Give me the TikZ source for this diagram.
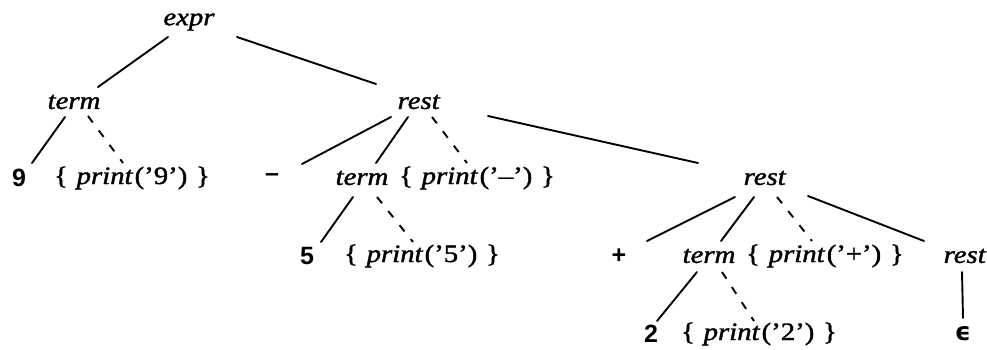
\documentclass[tikz,border=0pt]{standalone}
\usepackage{fontspec}
\setmainfont{Liberation Serif}[FakeStretch=1.15,UprightFeatures={FakeBold=1.5},ItalicFeatures={FakeBold=1.5}]
\newfontfamily\digfont{Liberation Sans}
\newfontfamily\epsfont{DejaVu Sans}
\usetikzlibrary{calc}
\tikzset{
  lbl/.style={inner sep=0pt, font=\fontsize{25}{28}\selectfont},
  edge/.style={line width=1.9pt, line cap=round},
  act/.style={edge, dash pattern=on 8pt off 10pt, line cap=butt}
}
\newcommand{\prt}[1]{\{\hspace{0.35em}\textit{print}\hspace{0.06em}(’#1’)\hspace{0.35em}\}}
\begin{document}
\begin{tikzpicture}[x=1pt,y=-1pt]
\useasboundingbox (0,0) rectangle (987,350);
% row 0
\node[lbl] (expr) at (189,22) {\textit{expr}};
% row 1
\node[lbl] (term1) at (74,102) {\textit{term}};
\node[lbl] (rest1) at (419,102) {\textit{rest}};
% row 2
\node[lbl] (n9) at (19,178) {\digfont\bfseries 9};
\node[lbl] (p9) at (132,178) {\prt{9}};
\node[lbl] (minus) at (272,178) {\digfont\bfseries –};
\node[lbl] (term2) at (362,178) {\textit{term}};
\node[lbl] (pm) at (477,178) {\prt{–}};
\node[lbl] (rest2) at (765,178) {\textit{rest}};
% row 3
\node[lbl] (n5) at (307,256) {\digfont\bfseries 5};
\node[lbl] (p5) at (422,256) {\prt{5}};
\node[lbl] (plus) at (619,256) {\digfont\bfseries +};
\node[lbl] (term3) at (709,256) {\textit{term}};
\node[lbl] (pp) at (825,256) {\prt{+}};
\node[lbl] (rest3) at (965,256) {\textit{rest}};
% row 4
\node[lbl] (n2) at (651,334) {\digfont\bfseries 2};
\node[lbl] (p2) at (759,334) {\prt{2}};
\node[lbl] (eps) at (963,334) {\epsfont\bfseries ϵ};
% edges
\draw[edge] ($(expr)+(-21,15)$) -- ($(term1)+(24,-15)$);
\draw[edge] ($(expr)+(48,15)$) -- ($(rest1)+(-43,-18)$);
\draw[edge] ($(term1)+(-9,15)$) -- ($(n9)+(13,-15)$);
\draw[act]  ($(term1)+(14,14)$) -- ($(p9)+(-9,-15)$);
\draw[edge] ($(rest1)+(-28,15)$) -- ($(minus)+(30,-14)$);
\draw[edge] ($(rest1)+(-11,15)$) -- ($(term2)+(14,-15)$);
\draw[act]  ($(rest1)+(13,15)$) -- ($(pm)+(-10,-15)$);
\draw[edge] ($(rest1)+(69,14)$) -- ($(rest2)+(-67,-15)$);
\draw[edge] ($(term2)+(-9,19)$) -- ($(n5)+(14,-14)$);
\draw[act]  ($(term2)+(15,19)$) -- ($(p5)+(-9,-14)$);
\draw[edge] ($(rest2)+(-30,19)$) -- ($(plus)+(28,-15)$);
\draw[edge] ($(rest2)+(-11,19)$) -- ($(term3)+(12,-15)$);
\draw[act]  ($(rest2)+(12,19)$) -- ($(pp)+(-13,-15)$);
\draw[edge] ($(rest2)+(43,18)$) -- ($(rest3)+(-41,-15)$);
\draw[edge] ($(term3)+(-12,16)$) -- ($(n2)+(6,-13)$);
\draw[act]  ($(term3)+(13,16)$) -- ($(p2)+(-5,-13)$);
\draw[edge] ($(rest3)+(-3,16)$) -- ($(eps)+(0,-16)$);
\end{tikzpicture}
\end{document}
